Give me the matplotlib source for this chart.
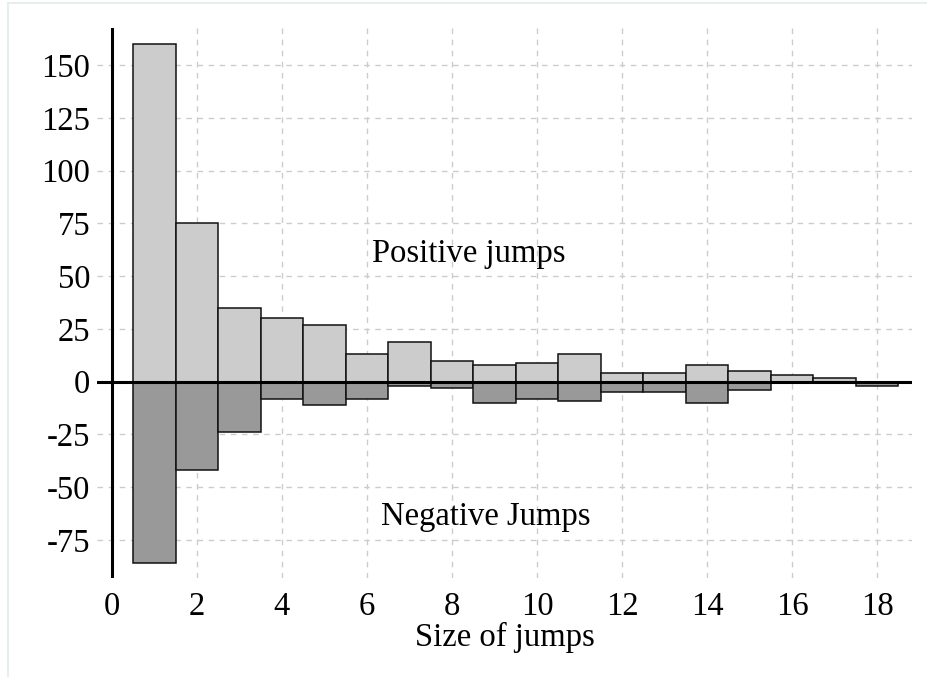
import matplotlib
matplotlib.use("Agg")
import matplotlib.pyplot as plt
from matplotlib.lines import Line2D

sizes = list(range(1, 19))
positive = [160, 75, 35, 30, 27, 13, 19, 10, 8, 9, 13, 4, 4, 8, 5, 3, 2, 0]
negative = [-86, -42, -24, -8, -11, -8, -2, -3, -10, -8, -9, -5, -5, -10, -4, 0, 0, -2]
xticks = list(range(0, 19, 2))
yticks = [-75, -50, -25, 0, 25, 50, 75, 100, 125, 150]

plt.rcParams['font.family'] = ['Liberation Serif', 'DejaVu Serif']

fig = plt.figure(figsize=(9.27, 6.77), dpi=100)
ax = fig.add_axes([97/927, 1-578/677, (912-97)/927, (578-28)/677])

ax.bar(sizes, positive, width=1.0, color='#cccccc', edgecolor='#111111', linewidth=1.1, zorder=3)
ax.bar(sizes, negative, width=1.0, color='#999999', edgecolor='#111111', linewidth=1.1, zorder=3)

ax.axhline(0, color='black', lw=2.2, zorder=4)
ax.axvline(0, color='black', lw=2.2, zorder=4)

ax.set_xlim(-0.35, 18.82)
ax.set_ylim(-93, 167.6)
ax.set_xticks(xticks)
ax.set_yticks(yticks)
ax.set_yticklabels([str(v) for v in yticks])
ax.tick_params(length=0, labelsize=23.5, colors='black')
ax.tick_params(axis='y', pad=5)
ax.tick_params(axis='x', pad=10)
ax.grid(True, color='#cccccc', linestyle=(0, (4, 4)), linewidth=1.0, zorder=0)
for s in ax.spines.values():
    s.set_visible(False)

ax.set_xlabel('Size of jumps', fontsize=23.5, labelpad=0)
ax.text(8.4, 60.4, 'Positive jumps', fontsize=23.5, ha='center', va='center', zorder=5)
ax.text(8.8, -64.2, 'Negative Jumps', fontsize=23.5, ha='center', va='center', zorder=5)

# light outer frame
fig.add_artist(Line2D([8/927, 1], [1-3/677, 1-3/677], transform=fig.transFigure, color='#e6eeee', lw=1.5))
fig.add_artist(Line2D([8/927, 8/927], [0, 1-3/677], transform=fig.transFigure, color='#e6eeee', lw=1.5))

fig.savefig('out.png', dpi=100)
